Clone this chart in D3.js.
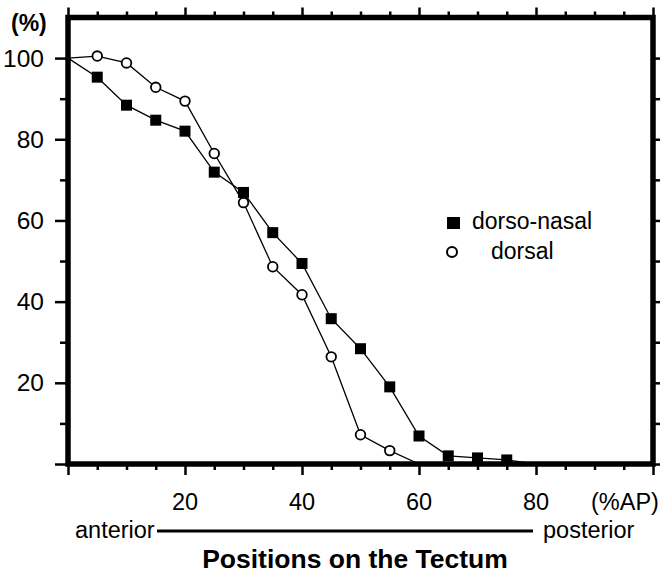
<!DOCTYPE html>
<html>
<head>
<meta charset="utf-8">
<script src="https://cdn.jsdelivr.net/npm/d3@7"></script>
<style>
  body { margin: 0; background: #fff; }
  svg { display: block; font-family: "Liberation Sans", Arial, sans-serif; }
</style>
</head>
<body>
<div id="chart"></div>
<script>
// positions along the tectum (%AP)
var dnPos = [0, 5, 10, 15, 20, 25, 30, 35, 40, 45, 50, 55, 60, 65, 70, 75, 80];
var dorsoNasal = [100, 95.3, 88.4, 84.7, 82.0, 71.9, 66.9, 57.0, 49.4, 35.8, 28.4, 19.0, 6.9, 2.0, 1.5, 1.0, 0];
var dPos = [0, 5, 10, 15, 20, 25, 30, 35, 40, 45, 50, 55, 60];
var dorsal = [100, 100.5, 98.8, 92.8, 89.4, 76.5, 64.4, 48.6, 41.7, 26.4, 7.2, 3.3, 0];

var xLabels = [20, 40, 60, 80];
var yLabels = [20, 40, 60, 80, 100];
var xMajor = [0, 20, 40, 60, 80, 100];
var xMinor = [5, 10, 15, 25, 30, 35, 45, 50, 55, 65, 70, 75, 85, 90, 95];
var yMajor = [0, 20, 40, 60, 80, 100];
var yMinor = [10, 30, 50, 70, 90];

var width = 660, height = 573;
var plotL = 68, plotR = 653, plotT = 17.5, plotB = 464;

var x = d3.scaleLinear().domain([0, 100]).range([plotL, plotR]);
var y = d3.scaleLinear().domain([0, 110]).range([plotB, plotT]);

var svg = d3.select("#chart").append("svg")
    .attr("width", width)
    .attr("height", height);

// ticks
function addAxis(axis, tx, ty) {
  var g = svg.append("g")
      .attr("transform", "translate(" + tx + "," + ty + ")")
      .call(axis);
  g.select(".domain").remove();
  g.selectAll("text").remove();
  g.selectAll("line").attr("stroke", "#000").attr("stroke-width", 2.5);
}
addAxis(d3.axisBottom(x).tickValues(xMajor).tickSize(11), 0, plotB);
addAxis(d3.axisBottom(x).tickValues(xMinor).tickSize(6), 0, plotB);
addAxis(d3.axisTop(x).tickValues(xMajor).tickSize(10), 0, plotT);
addAxis(d3.axisTop(x).tickValues(xMinor).tickSize(6), 0, plotT);
addAxis(d3.axisLeft(y).tickValues(yMajor).tickSize(13), plotL, 0);
addAxis(d3.axisLeft(y).tickValues(yMinor).tickSize(8), plotL, 0);
addAxis(d3.axisRight(y).tickValues(yMajor).tickSize(12), plotR, 0);
addAxis(d3.axisRight(y).tickValues(yMinor).tickSize(8), plotR, 0);

// frame
svg.append("rect")
    .attr("x", plotL).attr("y", plotT)
    .attr("width", plotR - plotL).attr("height", plotB - plotT)
    .attr("fill", "none").attr("stroke", "#000").attr("stroke-width", 5.5);

// tick labels
svg.selectAll(".xl").data(xLabels).enter().append("text")
    .attr("x", function (d) { return x(d); })
    .attr("y", 510)
    .attr("text-anchor", "middle")
    .attr("font-size", 23.5)
    .text(function (d) { return d; });

svg.selectAll(".yl").data(yLabels).enter().append("text")
    .attr("x", 44)
    .attr("y", function (d) { return y(d) + 8.5; })
    .attr("text-anchor", "end")
    .attr("font-size", 24.5)
    .text(function (d) { return d; });

svg.append("text").attr("x", 11).attr("y", 31)
    .attr("font-size", 23).attr("font-weight", "bold").text("(%)");
svg.append("text").attr("x", 591).attr("y", 510)
    .attr("font-size", 23.5).text("(%AP)");

// anterior / posterior
svg.append("text").attr("x", 75).attr("y", 538)
    .attr("font-size", 23.5).text("anterior");
svg.append("line").attr("x1", 157).attr("x2", 533)
    .attr("y1", 531).attr("y2", 531)
    .attr("stroke", "#000").attr("stroke-width", 3);
svg.append("text").attr("x", 543).attr("y", 538)
    .attr("font-size", 23.5).text("posterior");
svg.append("text").attr("x", 355).attr("y", 568)
    .attr("text-anchor", "middle")
    .attr("font-size", 26.5).attr("font-weight", "bold")
    .text("Positions on the Tectum");

// lines
var line = d3.line()
    .x(function (d) { return x(d[0]); })
    .y(function (d) { return y(d[1]); });

var dnData = dnPos.map(function (p, i) { return [p, dorsoNasal[i]]; });
var dData = dPos.map(function (p, i) { return [p, dorsal[i]]; });

svg.append("path").datum(dnData).attr("d", line)
    .attr("fill", "none").attr("stroke", "#000").attr("stroke-width", 1.3);
svg.append("path").datum(dData).attr("d", line)
    .attr("fill", "none").attr("stroke", "#000").attr("stroke-width", 1.3);

// markers (no marker at the start point or where the curve reaches zero)
var sq = 11;
svg.selectAll(".sq").data(dnData.filter(function (d) { return d[0] > 0 && d[1] > 0; }))
  .enter().append("rect")
    .attr("x", function (d) { return x(d[0]) - sq / 2; })
    .attr("y", function (d) { return y(d[1]) - sq / 2; })
    .attr("width", sq).attr("height", sq)
    .attr("fill", "#000");

svg.selectAll(".ci").data(dData.filter(function (d) { return d[0] > 0 && d[1] > 0; }))
  .enter().append("circle")
    .attr("cx", function (d) { return x(d[0]); })
    .attr("cy", function (d) { return y(d[1]); })
    .attr("r", 4.8)
    .attr("fill", "#fff").attr("stroke", "#000").attr("stroke-width", 1.8);

// legend
svg.append("rect").attr("x", 447).attr("y", 217)
    .attr("width", 13).attr("height", 12).attr("fill", "#000");
svg.append("text").attr("x", 472).attr("y", 229)
    .attr("font-size", 23).text("dorso-nasal");
svg.append("circle").attr("cx", 452).attr("cy", 252).attr("r", 5)
    .attr("fill", "#fff").attr("stroke", "#000").attr("stroke-width", 2);
svg.append("text").attr("x", 491).attr("y", 259)
    .attr("font-size", 23).text("dorsal");
</script>
</body>
</html>
